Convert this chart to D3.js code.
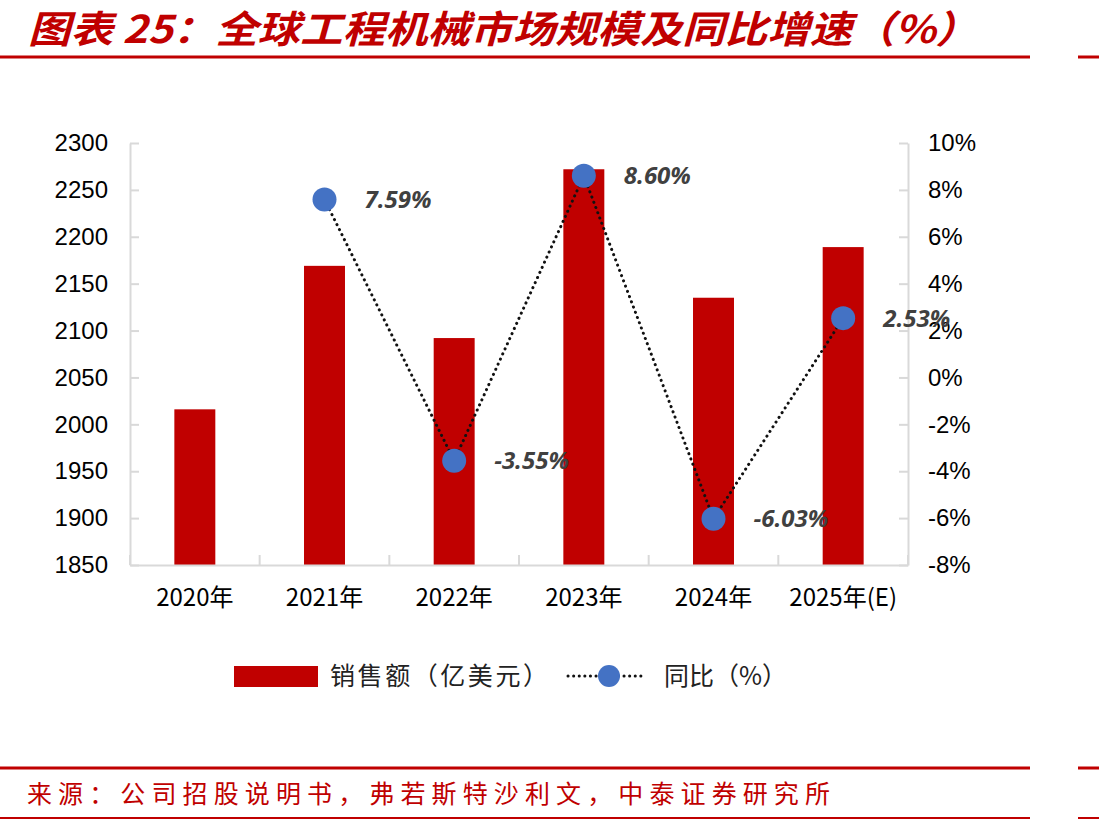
<!DOCTYPE html>
<html>
<head>
<meta charset="utf-8">
<script src="https://cdn.jsdelivr.net/npm/d3@7"></script>
<style>
    body { margin: 0; background: #fff; }
    svg { display: block; font-family: "Open Sans", "Noto Sans CJK SC", sans-serif; }
    .axis text { font-size: 24px; fill: #000; }
    .axis path, .axis line { stroke: #d9d9d9; stroke-width: 2; }
    .cjk { font-family: "Noto Sans CJK SC", sans-serif; }
</style>
</head>
<body>
<script>
var years      = ['2020年', '2021年', '2022年', '2023年', '2024年', '2025年(E)'];
var sales      = [2016, 2169, 2092, 2272, 2135, 2189];
var growth     = [null, 7.59, -3.55, 8.60, -6.03, 2.53];
var leftTicks  = [1850, 1900, 1950, 2000, 2050, 2100, 2150, 2200, 2250, 2300];
var rightTicks = [-8, -6, -4, -2, 0, 2, 4, 6, 8, 10];

var red  = '#c00000';
var blue = '#4472c4';

var svg = d3.select('body').append('svg')
    .attr('width', 1099)
    .attr('height', 823)
;

// Title and rules
svg.append('text')
    .attr('class', 'cjk')
    .attr('x', 28)
    .attr('y', 43)
    .attr('textLength', 950)
    .attr('lengthAdjust', 'spacingAndGlyphs')
    .style('font-size', '38px')
    .style('font-weight', 700)
    .style('font-style', 'italic')
    .style('fill', red)
    .text('图表 25：全球工程机械市场规模及同比增速（%）')
;

[[57, 3], [768, 3], [818, 2]].forEach(function (rule) {
    [[0, 1030], [1078, 1099]].forEach(function (seg) {
        svg.append('rect')
            .attr('x', seg[0])
            .attr('y', rule[0] - rule[1] / 2)
            .attr('width', seg[1] - seg[0])
            .attr('height', rule[1])
            .style('fill', red)
        ;
    });
});

svg.append('text')
    .attr('class', 'cjk')
    .attr('x', 27)
    .attr('y', 803)
    .attr('textLength', 803)
    .attr('lengthAdjust', 'spacing')
    .style('font-size', '25px')
    .style('fill', red)
    .text('来源：公司招股说明书，弗若斯特沙利文，中泰证券研究所')
;

// Scales
var x = d3.scaleBand()
    .domain(years)
    .range([130, 908])
    .paddingInner(0.684)
    .paddingOuter(0.342)
;

var yLeft = d3.scaleLinear()
    .domain([1850, 2300])
    .range([565, 143])
;

var yRight = d3.scaleLinear()
    .domain([-8, 10])
    .range([565, 143])
;

// Bars
svg.append('g').selectAll('rect')
    .data(sales)
    .enter().append('rect')
    .attr('x', (d, i) => x(years[i]))
    .attr('y', d => yLeft(d))
    .attr('width', x.bandwidth())
    .attr('height', d => yLeft(1850) - yLeft(d))
    .style('fill', red)
;

// Axes
svg.append('g')
    .attr('class', 'axis')
    .attr('transform', 'translate(130,0)')
    .call(d3.axisLeft(yLeft).tickValues(leftTicks).tickFormat(d3.format('d')).tickSizeInner(-9).tickSizeOuter(0).tickPadding(22))
;

svg.append('g')
    .attr('class', 'axis')
    .attr('transform', 'translate(908,0)')
    .call(d3.axisRight(yRight).tickValues(rightTicks).tickSizeInner(-9).tickSizeOuter(0).tickPadding(20).tickFormat(d => d + '%'))
;

var xAxis = svg.append('g')
    .attr('class', 'axis')
    .attr('transform', 'translate(0,565)')
    .call(d3.axisBottom(x).tickSize(0).tickPadding(24))
;

xAxis.selectAll('text')
    .attr('class', 'cjk')
    .style('font-size', '24px')
;

// category boundary ticks
xAxis.selectAll('.boundary')
    .data(d3.range(years.length + 1))
    .enter().append('line')
    .attr('class', 'boundary')
    .attr('x1', i => x.range()[0] + i * x.step())
    .attr('x2', i => x.range()[0] + i * x.step())
    .attr('y1', 0)
    .attr('y2', -10)
;

// Growth line
var points = growth
    .map((g, i) => ({ year: years[i], value: g }))
    .filter(p => p.value !== null)
;

var cx = p => x(p.year) + x.bandwidth() / 2;

svg.append('path')
    .datum(points)
    .attr('d', d3.line().x(cx).y(p => yRight(p.value)))
    .style('fill', 'none')
    .style('stroke', '#111')
    .style('stroke-width', 3)
    .style('stroke-dasharray', '0.1 5.5')
    .style('stroke-linecap', 'round')
;

svg.append('g').selectAll('circle')
    .data(points)
    .enter().append('circle')
    .attr('cx', cx)
    .attr('cy', p => yRight(p.value))
    .attr('r', 12)
    .style('fill', blue)
;

svg.append('g').selectAll('text')
    .data(points)
    .enter().append('text')
    .attr('x', p => cx(p) + 40)
    .attr('y', p => yRight(p.value))
    .attr('dy', '0.36em')
    .style('font-size', '24px')
    .style('font-weight', 700)
    .style('font-style', 'italic')
    .style('fill', '#404040')
    .text(p => p.value.toFixed(2) + '%')
;

// Legend
var legend = svg.append('g')
    .attr('class', 'cjk')
    .style('font-size', '25px')
    .style('fill', '#222')
;

legend.append('rect')
    .attr('x', 234)
    .attr('y', 666)
    .attr('width', 84)
    .attr('height', 21)
    .style('fill', red)
;

legend.append('text')
    .attr('x', 330)
    .attr('y', 676)
    .attr('dy', '0.36em')
    .attr('textLength', 218)
    .attr('lengthAdjust', 'spacing')
    .text('销售额（亿美元）')
;

legend.append('line')
    .attr('x1', 568)
    .attr('x2', 646)
    .attr('y1', 676)
    .attr('y2', 676)
    .style('stroke', '#111')
    .style('stroke-width', 3)
    .style('stroke-dasharray', '0.1 5.5')
    .style('stroke-linecap', 'round')
;

legend.append('circle')
    .attr('cx', 609)
    .attr('cy', 676)
    .attr('r', 11)
    .style('fill', blue)
;

legend.append('text')
    .attr('x', 664)
    .attr('y', 676)
    .attr('dy', '0.36em')
    .text('同比（%）')
;
</script>
</body>
</html>
